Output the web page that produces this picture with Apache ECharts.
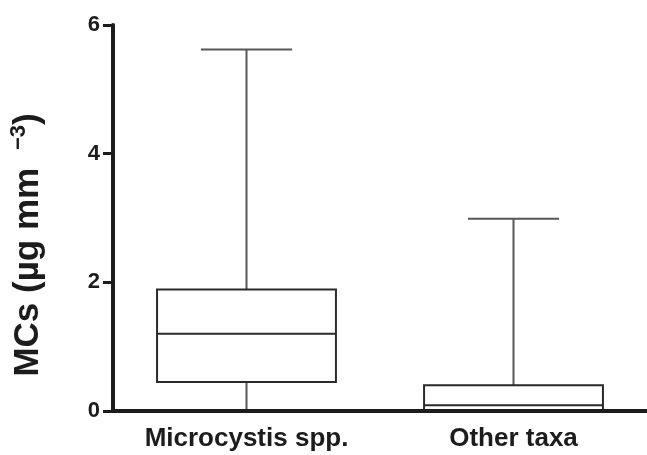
<!DOCTYPE html>
<html>
<head>
<meta charset="utf-8">
<script src="https://cdn.jsdelivr.net/npm/echarts@6/dist/echarts.min.js"></script>
<style>
  html, body { margin: 0; padding: 0; background: #fff; }
  #box-pic { width: 647px; height: 455px; }
</style>
</head>
<body>
<div id="box-pic"></div>
<script>
// box plot values (µg mm^-3)
const categories = ['Microcystis spp.', 'Other taxa']
const whiskerLow = [0, 0]
const q1 = [0.45, 0.0]
const median = [1.2, 0.09]
const q3 = [1.89, 0.4]
const whiskerHigh = [5.62, 2.99]
const yTicks = [0, 2, 4, 6]

const font = '"Liberation Sans", Arial, Helvetica, sans-serif'
const ink = '#1c1c1c'

const boxData = categories.map((c, i) => [i, whiskerLow[i], q1[i], median[i], q3[i], whiskerHigh[i]])

function renderBox (params, api) {
  const idx = api.value(0)
  const band = api.size([1, 0])[0]
  const bw = band * 0.67
  const cw = bw * 0.51
  const pLow = api.coord([idx, api.value(1)])
  const pQ1 = api.coord([idx, api.value(2)])
  const pMed = api.coord([idx, api.value(3)])
  const pQ3 = api.coord([idx, api.value(4)])
  const pHigh = api.coord([idx, api.value(5)])
  const cx = pMed[0]
  const boxStyle = { stroke: '#2a2a2a', lineWidth: 2, fill: null }
  const whiskerStyle = { stroke: '#575757', lineWidth: 2 }
  return {
    type: 'group',
    children: [
      { type: 'line', shape: { x1: cx, y1: pQ3[1], x2: cx, y2: pHigh[1] }, style: whiskerStyle },
      { type: 'line', shape: { x1: cx - cw / 2, y1: pHigh[1], x2: cx + cw / 2, y2: pHigh[1] }, style: whiskerStyle },
      { type: 'line', shape: { x1: cx, y1: pQ1[1], x2: cx, y2: pLow[1] }, style: whiskerStyle },
      { type: 'line', shape: { x1: cx - cw / 2, y1: pLow[1], x2: cx + cw / 2, y2: pLow[1] }, style: whiskerStyle },
      { type: 'rect', shape: { x: cx - bw / 2, y: pQ3[1], width: bw, height: pQ1[1] - pQ3[1] }, style: Object.assign({}, boxStyle, { fill: '#fff' }) },
      { type: 'line', shape: { x1: cx - bw / 2, y1: pMed[1], x2: cx + bw / 2, y2: pMed[1] }, style: boxStyle }
    ]
  }
}

const myChart = echarts.init(document.getElementById('box-pic'))
myChart.setOption({
  animation: false,
  backgroundColor: '#fff',
  grid: { left: 113, right: 0, top: 25, bottom: 44, outerBoundsMode: 'none', containLabel: false },
  xAxis: {
    type: 'category',
    z: 5,
    data: categories,
    boundaryGap: true,
    axisLine: { lineStyle: { color: ink, width: 4 } },
    axisTick: { alignWithLabel: true, length: 12, lineStyle: { color: ink, width: 3.5 } },
    axisLabel: { color: ink, fontFamily: font, fontWeight: 'bold', fontSize: 26, margin: 15 },
    splitLine: { show: false }
  },
  yAxis: {
    type: 'value',
    z: 5,
    min: yTicks[0],
    max: yTicks[yTicks.length - 1],
    interval: 2,
    name: '{a|MCs (µg mm }{b|−3}{a|)}',
    nameLocation: 'middle',
    nameGap: 65,
    nameTextStyle: {
      padding: [0, 54, 0, 0],
      rich: {
        a: { fontFamily: font, fontWeight: 'bold', fontSize: 35, color: ink, lineHeight: 40 },
        b: { fontFamily: font, fontWeight: 'bold', fontSize: 22, color: ink, verticalAlign: 'top', lineHeight: 22, padding: [0, 0, 0, 8] }
      }
    },
    axisLine: { show: true, lineStyle: { color: ink, width: 4 } },
    axisTick: { show: true, length: 10, lineStyle: { color: ink, width: 3 } },
    axisLabel: { color: ink, fontFamily: font, fontWeight: 'bold', fontSize: 22, margin: 13 },
    splitLine: { show: false }
  },
  series: [
    {
      type: 'custom',
      renderItem: renderBox,
      encode: { x: 0, y: [1, 2, 3, 4, 5] },
      data: boxData
    }
  ]
})
</script>
</body>
</html>
